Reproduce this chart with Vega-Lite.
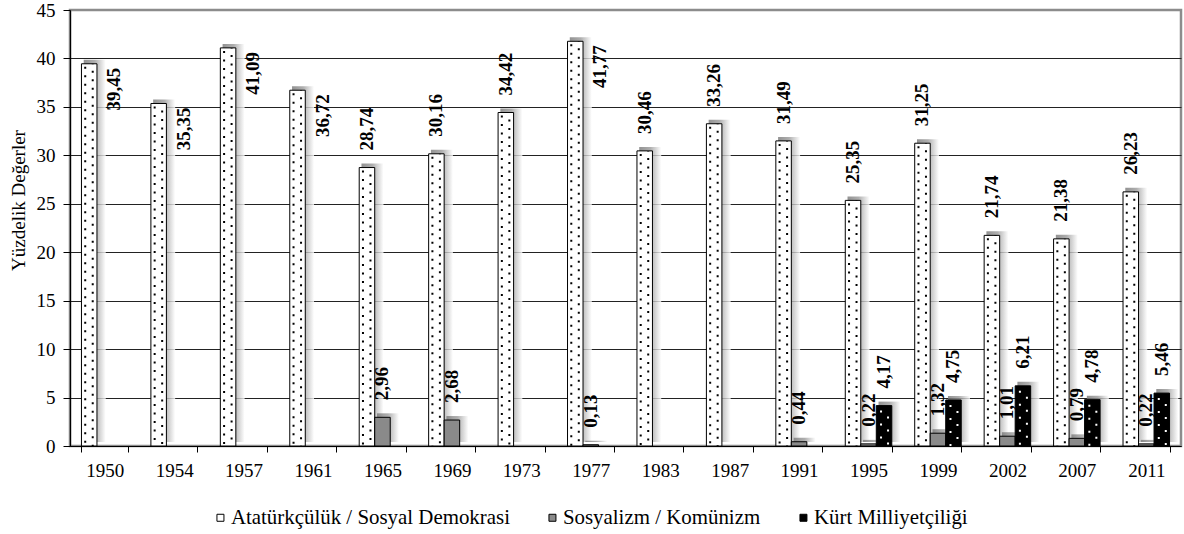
{
  "$schema": "https://vega.github.io/schema/vega-lite/v6.json",
  "width": 1111,
  "height": 436,
  "autosize": {"type": "none"},
  "padding": {"left": 70, "top": 10, "right": 3, "bottom": 88},
  "background": "white",
  "config": {
    "locale": {"number": {"decimal": ",", "thousands": ".", "grouping": [3], "currency": ["", ""]}},
    "view": {"stroke": "#8c8c8c", "strokeWidth": 2.5},
    "font": "Liberation Serif",
    "axis": {"labelFont": "Liberation Serif", "titleFont": "Liberation Serif", "labelColor": "#000", "titleColor": "#000", "domainColor": "#000", "tickColor": "#000"}
  },
  "data": {
    "values": [
      {"year": "1950", "series": "Atatürkçülük / Sosyal Demokrasi", "value": 39.45},
      {"year": "1954", "series": "Atatürkçülük / Sosyal Demokrasi", "value": 35.35},
      {"year": "1957", "series": "Atatürkçülük / Sosyal Demokrasi", "value": 41.09},
      {"year": "1961", "series": "Atatürkçülük / Sosyal Demokrasi", "value": 36.72},
      {"year": "1965", "series": "Atatürkçülük / Sosyal Demokrasi", "value": 28.74},
      {"year": "1969", "series": "Atatürkçülük / Sosyal Demokrasi", "value": 30.16},
      {"year": "1973", "series": "Atatürkçülük / Sosyal Demokrasi", "value": 34.42},
      {"year": "1977", "series": "Atatürkçülük / Sosyal Demokrasi", "value": 41.77},
      {"year": "1983", "series": "Atatürkçülük / Sosyal Demokrasi", "value": 30.46},
      {"year": "1987", "series": "Atatürkçülük / Sosyal Demokrasi", "value": 33.26},
      {"year": "1991", "series": "Atatürkçülük / Sosyal Demokrasi", "value": 31.49},
      {"year": "1995", "series": "Atatürkçülük / Sosyal Demokrasi", "value": 25.35},
      {"year": "1999", "series": "Atatürkçülük / Sosyal Demokrasi", "value": 31.25},
      {"year": "2002", "series": "Atatürkçülük / Sosyal Demokrasi", "value": 21.74},
      {"year": "2007", "series": "Atatürkçülük / Sosyal Demokrasi", "value": 21.38},
      {"year": "2011", "series": "Atatürkçülük / Sosyal Demokrasi", "value": 26.23},
      {"year": "1965", "series": "Sosyalizm / Komünizm", "value": 2.96},
      {"year": "1969", "series": "Sosyalizm / Komünizm", "value": 2.68},
      {"year": "1977", "series": "Sosyalizm / Komünizm", "value": 0.13},
      {"year": "1991", "series": "Sosyalizm / Komünizm", "value": 0.44},
      {"year": "1995", "series": "Sosyalizm / Komünizm", "value": 0.22},
      {"year": "1999", "series": "Sosyalizm / Komünizm", "value": 1.32},
      {"year": "2002", "series": "Sosyalizm / Komünizm", "value": 1.01},
      {"year": "2007", "series": "Sosyalizm / Komünizm", "value": 0.79},
      {"year": "2011", "series": "Sosyalizm / Komünizm", "value": 0.22},
      {"year": "1995", "series": "Kürt Milliyetçiliği", "value": 4.17},
      {"year": "1999", "series": "Kürt Milliyetçiliği", "value": 4.75},
      {"year": "2002", "series": "Kürt Milliyetçiliği", "value": 6.21},
      {"year": "2007", "series": "Kürt Milliyetçiliği", "value": 4.78},
      {"year": "2011", "series": "Kürt Milliyetçiliği", "value": 5.46}
    ]
  },
  "encoding": {
    "x": {
      "field": "year", "type": "nominal", "sort": null,
      "scale": {"domain": ["1950","1954","1957","1961","1965","1969","1973","1977","1983","1987","1991","1995","1999","2002","2007","2011"], "paddingInner": 0.33, "paddingOuter": 0.165},
      "axis": {"title": null, "labelAngle": 0, "labelFontSize": 19, "tickBand": "extent", "tickSize": 6, "labelPadding": 9, "grid": false, "domainWidth": 1.2}
    },
    "y": {
      "field": "value", "type": "quantitative",
      "scale": {"domain": [0, 45], "nice": false},
      "axis": {
        "title": "Yüzdelik Değerler", "titleFontSize": 19, "titleFontWeight": "normal",
        "titleAngle": 270, "titleAlign": "center", "titleBaseline": "middle", "titleX": -52, "titleY": 190,
        "values": [0,5,10,15,20,25,30,35,40,45], "labelFontSize": 19, "tickSize": 7, "labelPadding": 8,
        "grid": true, "gridColor": {"condition": {"test": "datum.value == 45", "value": "#8c8c8c"}, "value": "#222222"}, "gridWidth": 1, "domainWidth": 1.2
      }
    }
  },
  "layer": [
    {
      "transform": [{"filter": "datum.series == 'Atatürkçülük / Sosyal Demokrasi'"}],
      "mark": {"type": "bar", "width": 22, "xOffset": -10, "yOffset": -4, "fill": {"gradient": "linear", "x1": 0, "x2": 1, "y1": 0, "y2": 0, "stops": [{"offset": 0, "color": "#777777"}, {"offset": 0.5, "color": "#9a9a9a"}, {"offset": 1, "color": "#ffffff"}]}, "stroke": null, "opacity": 0.8},
      "encoding": {}
    },
    {
      "transform": [{"filter": "datum.series == 'Sosyalizm / Komünizm'"}],
      "mark": {"type": "bar", "width": 22, "xOffset": 5.5, "yOffset": -4, "fill": {"gradient": "linear", "x1": 0, "x2": 1, "y1": 0, "y2": 0, "stops": [{"offset": 0, "color": "#777777"}, {"offset": 0.5, "color": "#9a9a9a"}, {"offset": 1, "color": "#ffffff"}]}, "stroke": null, "opacity": 0.8},
      "encoding": {}
    },
    {
      "transform": [{"filter": "datum.series == 'Kürt Milliyetçiliği'"}],
      "mark": {"type": "bar", "width": 22, "xOffset": 21, "yOffset": -4, "fill": {"gradient": "linear", "x1": 0, "x2": 1, "y1": 0, "y2": 0, "stops": [{"offset": 0, "color": "#777777"}, {"offset": 0.5, "color": "#9a9a9a"}, {"offset": 1, "color": "#ffffff"}]}, "stroke": null, "opacity": 0.8},
      "encoding": {}
    },
    {
      "mark": {"type": "bar", "stroke": "#000", "strokeWidth": 1},
      "encoding": {
        "xOffset": {
          "field": "series", "type": "nominal",
          "scale": {"domain": ["Atatürkçülük / Sosyal Demokrasi", "Sosyalizm / Komünizm", "Kürt Milliyetçiliği"], "paddingInner": 0, "paddingOuter": 0}
        },
        "fill": {
          "field": "series", "type": "nominal",
          "scale": {"domain": ["Atatürkçülük / Sosyal Demokrasi", "Sosyalizm / Komünizm", "Kürt Milliyetçiliği"], "range": ["#ffffff", "#8a8a8a", "#000000"]},
          "legend": {
            "title": null, "orient": "none", "direction": "horizontal", "legendX": 140, "legendY": 497,
            "symbolType": "square", "symbolSize": 49, "symbolStrokeColor": "#000", "symbolStrokeWidth": 1,
            "labelFont": "Liberation Serif", "labelFontSize": 20.9, "labelColor": "#000", "labelOffset": 0,
            "columnPadding": 32, "padding": 0, "labelLimit": 400
          }
        }
      }
    },
    {
      "transform": [{"filter": "datum.series == 'Atatürkçülük / Sosyal Demokrasi'"}],
      "mark": {"type": "rule", "color": "#000", "strokeWidth": 2, "strokeDash": [2, 6.5], "strokeDashOffset": -3, "xOffset": -19.5},
      "encoding": {"y2": {"datum": 0}}
    },
    {
      "transform": [{"filter": "datum.series == 'Atatürkçülük / Sosyal Demokrasi'"}],
      "mark": {"type": "rule", "color": "#000", "strokeWidth": 2, "strokeDash": [2, 6.5], "strokeDashOffset": -7, "xOffset": -12},
      "encoding": {"y2": {"datum": 0}}
    },
    {
      "transform": [{"filter": "datum.series == 'Kürt Milliyetçiliği'"}],
      "mark": {"type": "rule", "color": "#fff", "strokeWidth": 2, "strokeDash": [2, 11], "strokeDashOffset": -5, "xOffset": 12.5},
      "encoding": {"y2": {"datum": 0}}
    },
    {
      "transform": [{"filter": "datum.series == 'Kürt Milliyetçiliği'"}],
      "mark": {"type": "rule", "color": "#fff", "strokeWidth": 2, "strokeDash": [2, 11], "strokeDashOffset": -11, "xOffset": 19.5},
      "encoding": {"y2": {"datum": 0}}
    },
    {
      "transform": [{"filter": "!(datum.series == 'Atatürkçülük / Sosyal Demokrasi' && datum.value > 35)"}],
      "mark": {"type": "text", "angle": 270, "align": "left", "baseline": "middle", "dx": 17, "font": "Liberation Serif", "fontWeight": "bold", "fontSize": 19, "color": "#000"},
      "encoding": {
        "xOffset": {"field": "series", "type": "nominal", "scale": {"domain": ["Atatürkçülük / Sosyal Demokrasi", "Sosyalizm / Komünizm", "Kürt Milliyetçiliği"], "paddingInner": 0, "paddingOuter": 0}},
        "text": {"field": "value", "type": "quantitative", "format": ".2f"}
      }
    },
    {
      "transform": [{"filter": "datum.series == 'Atatürkçülük / Sosyal Demokrasi' && datum.value > 35"}],
      "mark": {"type": "text", "angle": 270, "align": "right", "baseline": "middle", "dx": -4, "dy": 25, "font": "Liberation Serif", "fontWeight": "bold", "fontSize": 19, "color": "#000"},
      "encoding": {
        "xOffset": {"field": "series", "type": "nominal", "scale": {"domain": ["Atatürkçülük / Sosyal Demokrasi", "Sosyalizm / Komünizm", "Kürt Milliyetçiliği"], "paddingInner": 0, "paddingOuter": 0}},
        "text": {"field": "value", "type": "quantitative", "format": ".2f"}
      }
    }
  ]
}
